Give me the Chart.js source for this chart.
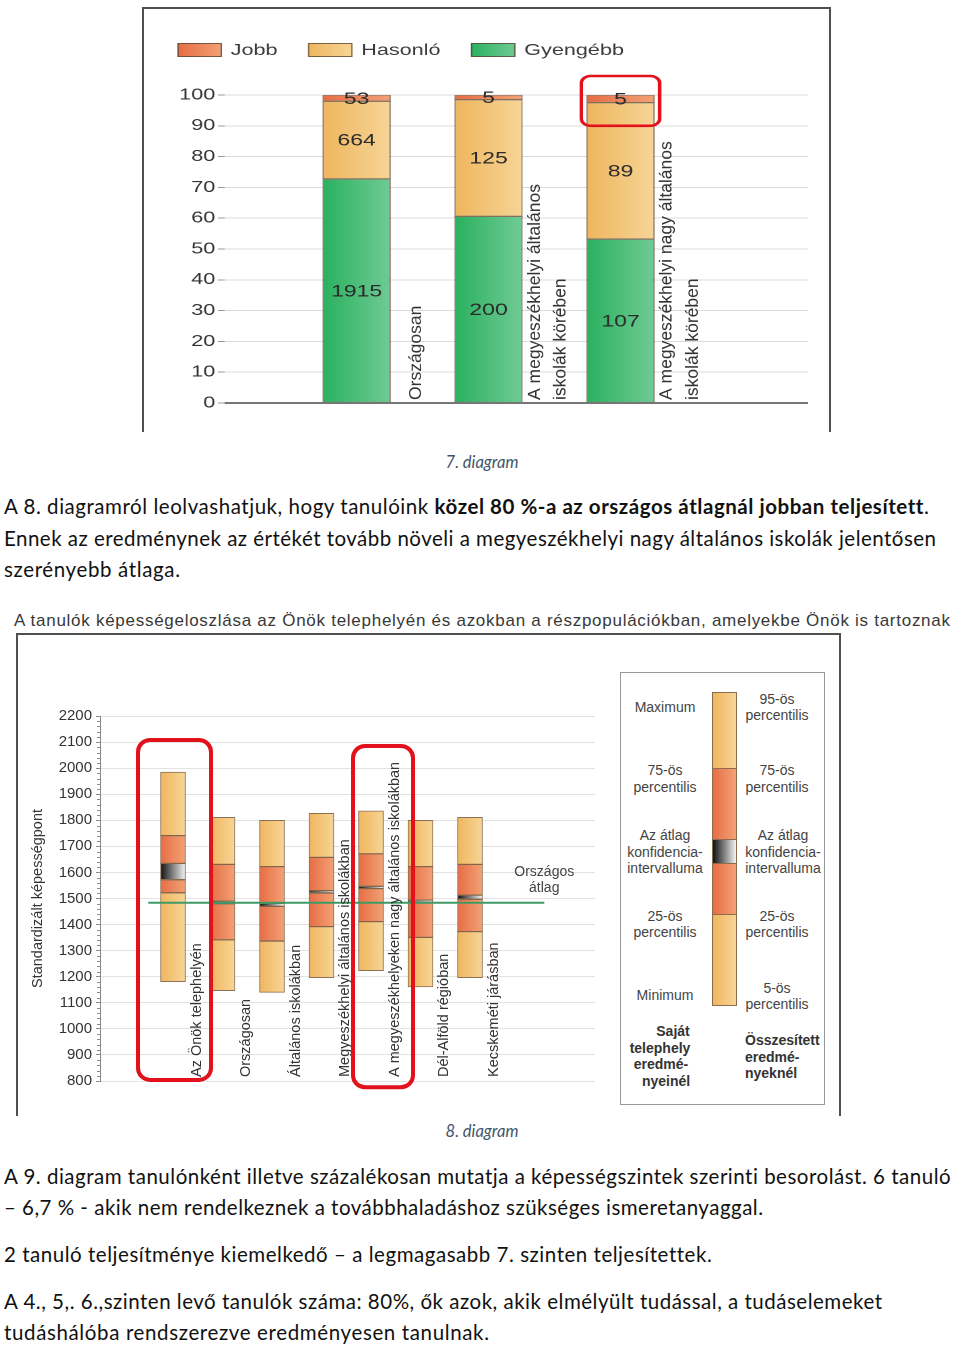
<!DOCTYPE html>
<html lang="hu"><head><meta charset="utf-8">
<script src="https://cdn.jsdelivr.net/npm/chart.js@4.4.1/dist/chart.umd.min.js"></script>
<style>
html,body{margin:0;padding:0;background:#fff;}
body{width:960px;height:1349px;position:relative;overflow:hidden;font-family:"Liberation Sans",Arial,sans-serif;}
.abs{position:absolute;}
.frame{position:absolute;border:2px solid #505050;border-bottom:none;box-sizing:border-box;}
.ln{position:absolute;left:4px;white-space:nowrap;font-family:Lato,sans-serif;font-size:20.5px;line-height:24px;color:#111;}
.cap{position:absolute;white-space:nowrap;font-family:Lato,sans-serif;font-style:italic;font-size:16.5px;line-height:20px;color:#44546a;transform:translateX(-50%);}
.lgt{position:absolute;white-space:nowrap;font-size:14px;line-height:16px;color:#444;transform:translate(-50%,-50%);}
.lgt.b{font-weight:bold;color:#333;}
.lgt.l{transform:translate(0,-50%);}
.seg{position:absolute;left:712px;width:25px;box-sizing:border-box;border:1px solid #8c6c4c;}
</style></head><body>

<div class="frame" style="left:142px;top:7px;width:689px;height:425px;"></div>
<div id="w1" class="abs" style="left:145px;top:9px;width:507px;height:421px;transform:scaleX(1.35);transform-origin:0 0;">
  <canvas id="c1" width="507" height="421"></canvas>
</div>

<div class="cap" style="left:482px;top:452px;">7. diagram</div>

<div class="ln" data-w="924" style="top:494px;">A 8. diagramról leolvashatjuk, hogy tanulóink <b>közel 80 %-a az országos átlagnál jobban teljesített</b>.</div>
<div class="ln" data-w="932" style="top:526px;">Ennek az eredménynek az értékét tovább növeli a megyeszékhelyi nagy általános iskolák jelentősen</div>
<div class="ln" data-w="176" style="top:557px;">szerényebb átlaga.</div>

<div id="t2" class="abs" data-w="936" style="left:14px;top:611px;white-space:nowrap;font-size:17px;line-height:20px;color:#383838;">A tanulók képességeloszlása az Önök telephelyén és azokban a részpopulációkban, amelyekbe Önök is tartoznak</div>

<div class="frame" style="left:16px;top:633px;width:825px;height:483px;"></div>
<canvas id="c2" class="abs" style="left:19px;top:636px;" width="820" height="478"></canvas>

<div class="abs" style="left:620px;top:672px;width:205px;height:433px;border:1px solid #9a9a9a;box-sizing:border-box;background:#fff;"></div>
<div class="seg" style="top:692px;height:77px;background:linear-gradient(to right,#efb65e,#f7d597);"></div>
<div class="seg" style="top:768px;height:72px;background:linear-gradient(to right,#e76d45,#f2a275);"></div>
<div class="seg" style="top:839px;height:25px;background:linear-gradient(to right,#111,#f4f4f4);"></div>
<div class="seg" style="top:863px;height:52px;background:linear-gradient(to right,#e76d45,#f2a275);"></div>
<div class="seg" style="top:914px;height:92px;background:linear-gradient(to right,#efb65e,#f7d597);"></div>
<div id="lgtext"></div>

<div class="cap" style="left:482px;top:1121px;">8. diagram</div>

<div class="ln" data-w="947" style="top:1164px;">A 9. diagram tanulónként illetve százalékosan mutatja a képességszintek szerinti besorolást. 6 tanuló</div>
<div class="ln" data-w="759" style="top:1195px;">– 6,7 % - akik nem rendelkeznek a továbbhaladáshoz szükséges ismeretanyaggal.</div>
<div class="ln" data-w="707" style="top:1242px;">2 tanuló teljesítménye kiemelkedő – a legmagasabb 7. szinten teljesítettek.</div>
<div class="ln" data-w="878" style="top:1289px;">A 4., 5,. 6.,szinten levő tanulók száma: 80%, ők azok, akik elmélyült tudással, a tudáselemeket</div>
<div class="ln" data-w="485" style="top:1320px;">tudáshálóba rendszerezve eredményesen tanulnak.</div>

<script>
// ================= DATA: chart 7 (stacked percentages, labels are student counts) =================
const c1Categories = [
  ['Országosan'],
  ['A megyeszékhelyi általános', 'iskolák körében'],
  ['A megyeszékhelyi nagy általános', 'iskolák körében']
];
const c1Slots = [1, 2, 3];
const c1SeriesNames = ['Jobb', 'Hasonló', 'Gyengébb'];
const jobb = [53, 5, 5];
const hasonlo = [664, 125, 89];
const gyengebb = [1915, 200, 107];
const c1YTicks = [0, 10, 20, 30, 40, 50, 60, 70, 80, 90, 100];

// ================= DATA: chart 8 (ability distribution, standardized points) =================
const c2Categories = [
  'Az Önök telephelyén',
  'Országosan',
  'Általános iskolákban',
  'Megyeszékhelyi általános iskolákban',
  'A megyeszékhelyeken nagy általános iskolákban',
  'Dél-Alföld régióban',
  'Kecskeméti járásban'
];
const c2Slots = [1, 2, 3, 4, 5, 6, 7];
const pLow  = [1181, 1146, 1140, 1196, 1223, 1161, 1196]; // minimum / 5th percentile
const p25   = [1522, 1341, 1337, 1392, 1411, 1351, 1373];
const ciLow = [1572, 1480, 1470, 1521, 1538, 1486, 1497];
const ciHigh= [1635, 1490, 1481, 1530, 1547, 1494, 1513];
const p75   = [1741, 1631, 1622, 1658, 1671, 1622, 1631];
const pHigh = [1985, 1811, 1800, 1827, 1836, 1800, 1811]; // maximum / 95th percentile
const nationalAverage = 1484;
const nationalAverageSpan = [0.5, 8.5];
const c2AverageLabel = ['Országos', 'átlag'];
const c2YTitle = 'Standardizált képességpont';
const c2YTicks = [800, 900, 1000, 1100, 1200, 1300, 1400, 1500, 1600, 1700, 1800, 1900, 2000, 2100, 2200];

// ================= styles =================
const COL = {
  light: ['#efb65e', '#f7d597'],
  orange: ['#e76d45', '#f2a275'],
  green: ['#2bb160', '#70cb94'],
  ci: ['#111111', '#f4f4f4']
};
function hGrad(cols, halfW) {
  return (c) => {
    if (c.type !== 'data' || !c.parsed || !c.chart.scales.x) return cols[0];
    const px = c.chart.scales.x.getPixelForValue(c.parsed.x);
    if (!isFinite(px)) return cols[0];
    const g = c.chart.ctx.createLinearGradient(px - halfW, 0, px + halfW, 0);
    g.addColorStop(0, cols[0]); g.addColorStop(1, cols[1]);
    return g;
  };
}

// ================= chart 1 =================
const K1 = 1.35;
const totals = c1Slots.map((_, i) => jobb[i] + hasonlo[i] + gyengebb[i]);
const pct = arr => arr.map((v, i) => ({ x: c1Slots[i], y: v / totals[i] * 100 }));
const c1Counts = [gyengebb, hasonlo, jobb];
const c1Cols = [COL.green, COL.light, COL.orange];
const c1Names = [c1SeriesNames[2], c1SeriesNames[1], c1SeriesNames[0]];
const BW1 = 50;

const deco1 = {
  id: 'deco1',
  afterDatasetsDraw(chart) {
    const { ctx, chartArea: a } = chart;
    ctx.save();
    ctx.strokeStyle = '#767676'; ctx.lineWidth = 2;
    ctx.beginPath(); ctx.moveTo(a.left, a.bottom); ctx.lineTo(a.right, a.bottom); ctx.stroke();
    ctx.font = '17px "Liberation Sans", Arial, sans-serif';
    ctx.fillStyle = '#2b2b2b'; ctx.textAlign = 'center'; ctx.textBaseline = 'middle';
    c1Counts.forEach((counts, di) => {
      chart.getDatasetMeta(di).data.forEach((el, i) => {
        ctx.fillText(String(counts[i]), el.x, (el.y + el.base) / 2 + 1);
      });
    });
    ctx.restore();
  },
  afterDraw(chart) {
    const { ctx, chartArea: a, scales: { x, y } } = chart;
    ctx.save();
    ctx.font = '16px "Liberation Sans", Arial, sans-serif';
    ctx.textBaseline = 'middle'; ctx.textAlign = 'left';
    let lx = 24;
    [2, 1, 0].forEach(di => {
      const ds = chart.data.datasets[di];
      const cols = c1Cols[di];
      const g = ctx.createLinearGradient(lx, 0, lx + 33, 0);
      g.addColorStop(0, cols[0]); g.addColorStop(1, cols[1]);
      ctx.fillStyle = g; ctx.fillRect(lx, 34, 33, 14);
      ctx.strokeStyle = 'rgba(90,70,50,0.8)'; ctx.lineWidth = 1; ctx.strokeRect(lx + 0.5, 34.5, 32, 13);
      ctx.fillStyle = '#3a3a3a';
      ctx.fillText(ds.label, lx + 39.5, 41.5);
      lx += 39.5 + ctx.measureText(ds.label).width + 22.5;
    });
    ctx.fillStyle = '#333';
    ctx.font = '17.5px "Liberation Sans", Arial, sans-serif';
    c1Categories.forEach((lines, i) => {
      const cx = x.getPixelForValue(c1Slots[i] + 0.45);
      ctx.save();
      ctx.translate(cx, a.bottom - 3);
      ctx.scale(1 / K1, 1);
      ctx.rotate(-Math.PI / 2);
      lines.forEach((t, j) => ctx.fillText(t, 0, (j - (lines.length - 1) / 2) * 26));
      ctx.restore();
    });
    const bx = x.getPixelForValue(c1Slots[2]);
    ctx.strokeStyle = '#e3111c'; ctx.lineWidth = 2.6;
    ctx.beginPath();
    ctx.roundRect(bx - 29, y.getPixelForValue(100) - 19, 58, y.getPixelForValue(90) - y.getPixelForValue(100) + 19, 7);
    ctx.stroke();
    ctx.restore();
  }
};

new Chart(document.getElementById('c1'), {
  type: 'bar',
  data: {
    datasets: [
      { label: c1Names[0], data: pct(gyengebb) },
      { label: c1Names[1], data: pct(hasonlo) },
      { label: c1Names[2], data: pct(jobb) }
    ].map((d, i) => Object.assign(d, {
      backgroundColor: hGrad(c1Cols[i], BW1 / 2),
      borderColor: 'rgba(100,80,60,0.7)', borderWidth: 1,
      barThickness: BW1, borderSkipped: false
    }))
  },
  options: {
    responsive: false, animation: false, devicePixelRatio: 2,
    layout: { padding: { left: 0, right: 16, top: 86, bottom: 27 } },
    plugins: { legend: { display: false }, tooltip: { enabled: false } },
    scales: {
      x: { type: 'linear', min: 0, max: 4.42, offset: false, stacked: true, display: false },
      y: {
        stacked: true, min: 0, max: 100,
        afterBuildTicks: s => { s.ticks = c1YTicks.map(v => ({ value: v })); },
        afterFit: s => { s.width = 59; },
        ticks: { color: '#333', padding: 2, callback: v => String(v), font: { family: '"Liberation Sans", Arial, sans-serif', size: 16 } },
        grid: { color: '#dadada', tickLength: 5, tickColor: '#9a9a9a', lineWidth: 1 },
        border: { display: false }
      }
    }
  },
  plugins: [deco1]
});

// ================= chart 2 =================
const BW2 = 25;
const segs = [
  { lo: pLow, hi: p25, cols: COL.light },
  { lo: p25, hi: ciLow, cols: COL.orange },
  { lo: ciLow, hi: ciHigh, cols: COL.ci },
  { lo: ciHigh, hi: p75, cols: COL.orange },
  { lo: p75, hi: pHigh, cols: COL.light }
];

const deco2 = {
  id: 'deco2',
  beforeDatasetsDraw(chart) {
    const { ctx, chartArea: a, scales: { y } } = chart;
    ctx.save();
    ctx.strokeStyle = '#8a8a8a'; ctx.lineWidth = 1;
    for (let v = c2YTicks[0]; v <= c2YTicks[c2YTicks.length - 1]; v += 20) {
      if (v % 100 === 0) continue;
      const py = Math.round(y.getPixelForValue(v)) + 0.5;
      ctx.beginPath(); ctx.moveTo(a.left - 3, py); ctx.lineTo(a.left, py); ctx.stroke();
    }
    ctx.restore();
  },
  afterDraw(chart) {
    const { ctx, chartArea: a, scales: { x, y } } = chart;
    ctx.save();
    ctx.fillStyle = '#333';
    ctx.font = '14.5px "Liberation Sans", Arial, sans-serif';
    ctx.textAlign = 'center'; ctx.textBaseline = 'middle';
    ctx.save(); ctx.translate(19, (a.top + a.bottom) / 2); ctx.rotate(-Math.PI / 2);
    ctx.fillText(c2YTitle, 0, 0); ctx.restore();
    ctx.fillStyle = '#444';
    ctx.font = '14px "Liberation Sans", Arial, sans-serif';
    const ax = x.getPixelForValue(nationalAverageSpan[1]);
    const ay = y.getPixelForValue(nationalAverage);
    ctx.fillText(c2AverageLabel[0], ax, ay - 31);
    ctx.fillText(c2AverageLabel[1], ax, ay - 15);
    ctx.fillStyle = '#333';
    ctx.font = '14.5px "Liberation Sans", Arial, sans-serif';
    ctx.textAlign = 'left';
    c2Categories.forEach((t, i) => {
      ctx.save();
      ctx.translate(x.getPixelForValue(c2Slots[i] + 0.48), a.bottom - 4);
      ctx.rotate(-Math.PI / 2);
      ctx.fillText(t, 0, 0);
      ctx.restore();
    });
    ctx.strokeStyle = '#e3111c'; ctx.lineWidth = 4;
    const boxes = [
      { i: 0, l: -35, r: 38, top: 2108, bot: 804 },
      { i: 4, l: -18, r: 42, top: 2085, bot: 776 }
    ];
    boxes.forEach(b => {
      const cx = x.getPixelForValue(c2Slots[b.i]);
      const t = y.getPixelForValue(b.top), bt = y.getPixelForValue(b.bot);
      ctx.beginPath(); ctx.roundRect(cx + b.l, t, b.r - b.l, bt - t, 12); ctx.stroke();
    });
    ctx.restore();
  }
};

new Chart(document.getElementById('c2'), {
  data: {
    datasets: segs.map(s => ({
      type: 'bar', order: 1, grouped: false,
      data: c2Slots.map((sx, i) => ({ x: sx, y: [s.lo[i], s.hi[i]] })),
      backgroundColor: hGrad(s.cols, BW2 / 2),
      borderColor: 'rgba(120,88,58,0.85)', borderWidth: 1, borderSkipped: false,
      barThickness: BW2
    })).concat([{
      type: 'line', order: 0,
      data: nationalAverageSpan.map(sx => ({ x: sx, y: nationalAverage })),
      borderColor: '#3e9a66', borderWidth: 2, pointRadius: 0, fill: false
    }])
  },
  options: {
    responsive: false, animation: false, devicePixelRatio: 1,
    layout: { padding: { left: 0, right: 244, top: 80, bottom: 33 } },
    plugins: { legend: { display: false }, tooltip: { enabled: false } },
    scales: {
      x: { type: 'linear', min: -0.475, max: 9.525, offset: false, display: false },
      y: {
        min: 800, max: 2200,
        afterBuildTicks: s => { s.ticks = c2YTicks.map(v => ({ value: v })); },
        afterFit: s => { s.width = 81; },
        ticks: { color: '#333', padding: 4, callback: v => String(v), font: { family: '"Liberation Sans", Arial, sans-serif', size: 15 } },
        grid: { color: '#e2e2e2', tickLength: 4, tickColor: '#8a8a8a' },
        border: { display: true, color: '#8a8a8a', width: 1 }
      }
    }
  },
  plugins: [deco2]
});

// ================= legend panel text (chart 8) =================
const lgItems = [
  ['Maximum', 665, 707], ['75-ös', 665, 770], ['percentilis', 665, 787],
  ['Az átlag', 665, 835], ['konfidencia-', 665, 852], ['intervalluma', 665, 868],
  ['25-ös', 665, 916], ['percentilis', 665, 932], ['Minimum', 665, 995],
  ['Saját', 673, 1031, 'b'], ['telephely', 660, 1048, 'b'], ['eredmé-', 661, 1064, 'b'], ['nyeinél', 666, 1081, 'b'],
  ['95-ös', 777, 699], ['percentilis', 777, 715], ['75-ös', 777, 770], ['percentilis', 777, 787],
  ['Az átlag', 783, 835], ['konfidencia-', 783, 852], ['intervalluma', 783, 868],
  ['25-ös', 777, 916], ['percentilis', 777, 932], ['5-ös', 777, 988], ['percentilis', 777, 1004],
  ['Összesített', 745, 1040, 'b l'], ['eredmé-', 745, 1057, 'b l'], ['nyeknél', 745, 1073, 'b l']
];
const host = document.getElementById('lgtext');
lgItems.forEach(([t, cx, cy, cls]) => {
  const d = document.createElement('div');
  d.className = 'lgt' + (cls ? ' ' + cls : '');
  d.style.left = cx + 'px'; d.style.top = cy + 'px';
  d.textContent = t;
  host.appendChild(d);
});

// ================= fit text lines to the reference widths =================
document.querySelectorAll('[data-w]').forEach(el => {
  const target = +el.dataset.w;
  const natural = el.getBoundingClientRect().width;
  const n = el.textContent.length;
  if (n > 1) el.style.letterSpacing = ((target - natural) / (n - 1)).toFixed(3) + 'px';
});
</script>
</body></html>
